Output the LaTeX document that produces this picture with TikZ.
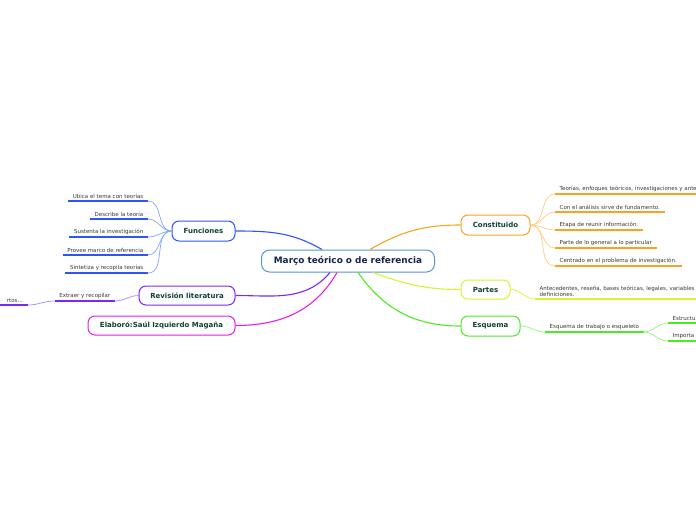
\documentclass[tikz,border=0pt]{standalone}
\usepackage{fontspec}
\setmainfont{DejaVu Sans}
\usetikzlibrary{positioning}

\definecolor{navytext}{RGB}{20,35,80}
\definecolor{tealtext}{RGB}{15,65,50}
\definecolor{leaftext}{RGB}{55,55,55}
\definecolor{cblue}{RGB}{85,150,210}
\definecolor{fblue}{RGB}{45,85,250}
\definecolor{fbluel}{RGB}{130,165,255}
\definecolor{rpurp}{RGB}{120,40,250}
\definecolor{rpurpl}{RGB}{175,130,255}
\definecolor{emag}{RGB}{230,30,230}
\definecolor{corng}{RGB}{245,165,35}
\definecolor{corngl}{RGB}{255,205,130}
\definecolor{pyell}{RGB}{215,245,45}
\definecolor{egreen}{RGB}{75,235,35}
\definecolor{egreenl}{RGB}{150,245,120}

\begin{document}
\begin{tikzpicture}[x=1pt,y=-1pt,
  topic/.style={draw, line width=1pt, rounded corners=7pt, fill=white,
    minimum height=20pt, inner sep=0pt,
    font=\fontsize{7}{8}\selectfont\bfseries, text=tealtext},
  leaf/.style={font=\fontsize{5.5}{6.5}\selectfont, text=leaftext,
    inner xsep=4.5pt, inner ysep=2.5pt, align=left},
  ul/.style={line width=1.4pt, draw=#1},
  link/.style={line width=0.7pt, draw=#1},
  main/.style={line width=1.1pt, draw=#1}]
  \useasboundingbox (0,0) rectangle (696,520);
  \clip (0,0) rectangle (696,520);

  % central topic
  \node[topic, draw=cblue, minimum width=173pt, minimum height=22pt, rounded corners=8pt,
    font=\fontsize{8.9}{10}\selectfont\bfseries, text=navytext] (marco) at (348,261)
    {Março teórico o de referencia};

  % main topics
  \node[topic, draw=fblue, minimum width=63pt] (fun) at (203.5,231) {Funciones};
  \node[topic, draw=rpurp, minimum width=96pt, minimum height=19pt] (rev) at (187,295.5) {Revisión literatura};
  \node[topic, draw=emag, minimum width=147pt, minimum height=19pt] (elab) at (161.5,325.5) {Elaboró:Saúl Izquierdo Magaña};
  \node[topic, draw=corng, minimum width=69pt] (con) at (495.5,225) {Constituido};
  \node[topic, draw=pyell, minimum width=49pt, minimum height=19pt] (par) at (485.5,289.5) {Partes};
  \node[topic, draw=egreen, minimum width=59pt] (esq) at (490.5,326) {Esquema};

  \draw[main=fblue] (fun.east) to[out=0,in=150] ([xshift=-26pt]marco.north);
  \draw[main=corng] ([xshift=22pt]marco.north) to[out=30,in=180] (con.west);
  \draw[main=pyell] ([xshift=25pt]marco.south) to[out=-20,in=180] (par.west);
  \draw[main=egreen] ([xshift=10pt]marco.south) to[out=-55,in=180] (esq.west);
  \draw[main=rpurp] ([xshift=-18pt]marco.south) to[out=-130,in=0] (rev.east);
  \draw[main=emag] ([xshift=-11pt]marco.south) to[out=-120,in=0] (elab.east);

  % Funciones
  \node[leaf, anchor=south east] (f1) at (148,201) {Ubica el tema con teorías};
  \node[leaf, anchor=south east] (f2) at (148,219) {Describe la teoría};
  \node[leaf, anchor=south east] (f3) at (148,237) {Sustenta la investigación};
  \node[leaf, anchor=south east] (f4) at (148,255) {Provee marco de referencia};
  \node[leaf, anchor=south east] (f5) at (148,273) {Sintetiza y recopila teorías};
  \foreach \n in {f1,f2,f3,f4,f5}{
    \draw[ul=fblue] (\n.south west) -- (\n.south east);
    \draw[link=fbluel] (\n.south east) to[out=0,in=180] (fun.west);
  }

  % Revision literatura
  \node[leaf, anchor=south east] (r1) at (115,301) {Extraer y recopilar};
  \node[leaf, anchor=south east, minimum width=34pt, align=right, text width=24pt] (r2) at (28,305) {rtos...};
  \draw[ul=rpurp] (r1.south west) -- (r1.south east);
  \draw[ul=rpurp] (r2.south west) -- (r2.south east);
  \draw[link=rpurpl] (r1.south east) to[out=0,in=180] (rev.west);
  \draw[link=rpurpl] (r2.south east) to[out=0,in=180] (r1.south west);

  % Constituido
  \node[leaf, anchor=south west] (c1) at (555,194) {Teorías, enfoques teóricos, investigaciones y ante};
  \node[leaf, anchor=south west] (c2) at (555,212) {Con el análisis sirve de fundamento.};
  \node[leaf, anchor=south west] (c3) at (555,230) {Etapa de reunir información.};
  \node[leaf, anchor=south west] (c4) at (555,248) {Parte de lo general a lo particular};
  \node[leaf, anchor=south west] (c5) at (555,266) {Centrado en el problema de investigación.};
  \foreach \n in {c1,c2,c3,c4,c5}{
    \draw[ul=corng] (\n.south west) -- (\n.south east);
    \draw[link=corngl] (con.east) to[out=0,in=180] (\n.south west);
  }

  % Partes
  \node[leaf, anchor=south west, inner ysep=2pt] (p1) at (535,299)
    {Antecedentes, reseña, bases teóricas, legales, variables\\definiciones.};
  \draw[ul=pyell] (p1.south west) -- ++(170,0);
  \draw[link=pyell] (par.east) to[out=0,in=180] (p1.south west);

  % Esquema
  \node[leaf, anchor=south west] (e1) at (545,332) {Esquema de trabajo o esqueleto};
  \node[leaf, anchor=south west] (e2) at (668,323) {Estructu};
  \node[leaf, anchor=south west] (e3) at (668,341) {Importa};
  \draw[ul=egreen] (e1.south west) -- (e1.south east);
  \draw[ul=egreen] (e2.south west) -- ++(40,0);
  \draw[ul=egreen] (e3.south west) -- ++(40,0);
  \draw[link=egreenl] (esq.east) to[out=0,in=180] (e1.south west);
  \draw[link=egreenl] (e1.south east) to[out=0,in=180] (e2.south west);
  \draw[link=egreenl] (e1.south east) to[out=0,in=180] (e3.south west);
\end{tikzpicture}
\end{document}
